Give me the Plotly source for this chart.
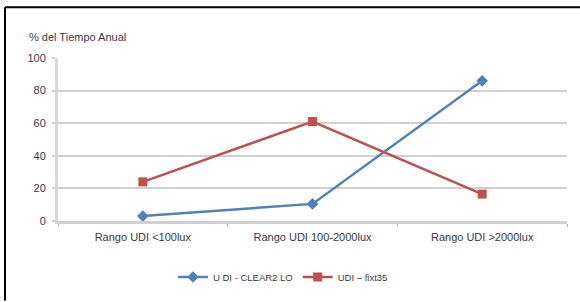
import plotly.graph_objects as go

categories = ["Rango UDI <100lux", "Rango UDI 100-2000lux", "Rango UDI >2000lux"]
clear2_values = [3, 10.5, 86]
fixt35_values = [24, 61, 16.5]
series_names = ["U DI - CLEAR2 LO", "UDI – fixt35"]
y_ticks = [0, 20, 40, 60, 80, 100]

W, H = 580, 302
ml, mr, mt, mb = 58, 13, 58, 80
pw, ph = W - ml - mr, H - mt - mb

def px_x(px):
    return (px - ml) / pw

def px_y(py):
    return (H - mb - py) / ph

fig = go.Figure()
fig.add_trace(go.Scatter(
    x=categories, y=clear2_values, name=series_names[0], mode="lines+markers",
    line=dict(color="#4F81BD", width=2.5),
    marker=dict(symbol="diamond", size=9, color="#4F81BD"),
))
fig.add_trace(go.Scatter(
    x=categories, y=fixt35_values, name=series_names[1], mode="lines+markers",
    line=dict(color="#C0504D", width=2.5),
    marker=dict(symbol="square", size=9, color="#C0504D"),
))

font_family = "Liberation Sans, Arial, sans-serif"
txt = "#3a3a4a"

fig.update_layout(
    width=W, height=H,
    margin=dict(l=ml, r=mr, t=mt, b=mb),
    paper_bgcolor="white", plot_bgcolor="white",
    font=dict(family=font_family, size=9, color=txt),
    showlegend=True,
    legend=dict(orientation="h", x=px_x(283), xanchor="center", y=px_y(277), yanchor="middle",
                font=dict(size=9.5, color=txt), itemwidth=30, tracegroupgap=0),
    xaxis=dict(
        type="category", showgrid=False, showline=True, linecolor="#D0D0D0", linewidth=3,
        ticks="outside", tickson="boundaries", ticklen=3, tickcolor="#BBBBBB", tickwidth=1,
        tickfont=dict(size=11, color=txt), range=[-0.5, 2.5], ticklabelstandoff=4,
    ),
    yaxis=dict(
        range=[0, 100], tickvals=y_ticks, showgrid=True, gridcolor="#D0D0D0", gridwidth=2,
        showline=True, linecolor="#D8D8D8", linewidth=3, zeroline=False,
        ticks="outside", ticklen=3, tickcolor="#D0D0D0", tickwidth=2,
        tickfont=dict(size=11, color=txt), ticklabelstandoff=4,
    ),
    annotations=[dict(
        text="% del Tiempo Anual", x=px_x(27), y=px_y(37), xref="paper", yref="paper",
        xanchor="left", yanchor="middle", showarrow=False,
        font=dict(size=11, color=txt),
    )],
    shapes=[
        dict(type="line", xref="paper", yref="paper", x0=px_x(5), x1=px_x(580),
             y0=px_y(7), y1=px_y(7), line=dict(color="black", width=2)),
        dict(type="line", xref="paper", yref="paper", x0=px_x(5), x1=px_x(5),
             y0=px_y(7), y1=px_y(302), line=dict(color="black", width=2)),
    ],
)

fig.write_html("out.html", config={"displayModeBar": False},
               post_script="document.body.style.margin='0';document.body.style.overflow='hidden';")
